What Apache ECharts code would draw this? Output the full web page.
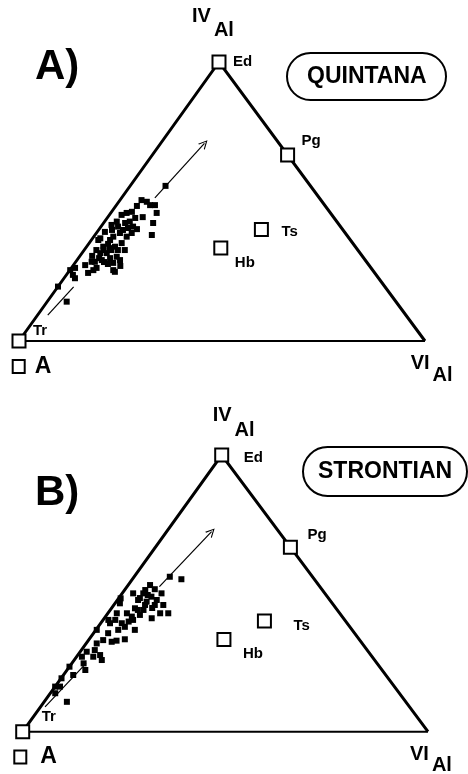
<!DOCTYPE html>
<html>
<head>
<meta charset="utf-8">
<style>
  html, body { margin: 0; padding: 0; background: #fff; }
  #chart { width: 468px; height: 774px; }
</style>
<script src="https://cdn.jsdelivr.net/npm/echarts@6/dist/echarts.min.js"></script>
</head>
<body>
<div id="chart"></div>
<script>
// ternary values in %: Al(IV) and Al(VI); the rest is the vacant A site (Tr corner)
const quintanaAlIV = [55.6, 50.5, 49.9, 48.7, 45.9, 44.4, 42.3, 38.0, 46.3, 45.9, 45.2, 42.8, 42.3, 41.0, 38.7, 37.4, 42.8, 41.0, 38.7, 37.4,
  36.2, 36.2, 33.8, 32.6, 31.5, 31.5, 32.6, 33.8, 35.1, 32.6, 30.2, 29.7, 28.0, 24.8, 29.0, 28.4, 28.4, 26.2, 24.4, 26.2,
  23.7, 25.4, 19.5, 14.1, 39.1, 34.8, 32.6, 29.0, 32.6, 39.8, 48.4, 40.5, 29.7, 27.6, 28.3, 30.5, 33.3, 26.9, 27.2, 39.8,
  44.1, 40.1, 48.7, 22.5, 25.4, 25.4, 36.8, 41.6];
const quintanaAlVI = [8.7, 5.3, 6.9, 9.5, 11.3, 8.6, 12.2, 14.0, 5.0, 3.9, 3.0, 6.2, 5.3, 7.9, 8.7, 8.1, 3.0, 4.2, 5.8, 4.8,
  4.6, 1.7, 4.1, 3.0, 4.5, 6.1, 6.7, 7.0, 8.0, 10.0, 9.2, 7.8, 9.4, 11.4, 6.1, 4.7, 3.9, 6.2, 5.0, 0.9,
  1.6, 0.1, 0.0, 4.8, 1.9, 4.8, 4.8, 10.6, 8.3, 3.3, 5.2, 6.9, 5.1, 8.3, 7.0, 3.0, 6.0, 11.7, 2.9, 6.0,
  6.9, 9.3, 8.3, 2.7, 5.8, 10.7, 1.9, 2.3];

const strontianAlIV = [56.0, 55.1, 51.5, 50.0, 50.0, 50.0, 47.6, 47.0, 48.8, 47.6, 45.8, 42.8, 42.8, 41.0, 44.0, 44.6, 42.2, 41.6, 39.8, 37.9,
  36.8, 46.4, 42.8, 42.8, 39.2, 36.8, 39.2, 35.6, 33.1, 32.5, 32.9, 33.4, 31.9, 29.5, 27.7, 27.1, 28.9, 27.1, 24.7, 22.3,
  20.5, 23.5, 19.3, 16.3, 13.9, 16.3, 10.8, 36.8, 48.3, 49.4, 45.8, 44.7, 40.4, 40.4, 51.2, 45.8, 44.0, 53.0, 48.2, 40.4, 25.9];
const strontianAlVI = [8.8, 12.1, 7.3, 9.7, 2.7, 5.2, 5.1, 7.5, 7.8, 9.7, 12.2, 14.9, 12.9, 11.7, 8.2, 5.8, 8.2, 6.5, 6.6, 6.6,
  9.6, 1.2, 2.2, 4.7, 5.2, 5.5, 2.3, 3.6, 3.6, 6.0, 7.0, 8.8, 2.6, 3.3, 5.5, 4.1, 1.6, 1.3, 2.9, 4.5,
  2.4, 0.0, 0.1, 1.2, 1.2, 0.0, 5.6, 0.2, 5.2, 6.6, 7.7, 10.0, 7.4, 3.0, 5.1, 10.1, 6.8, 5.4, 0.5, 1.3, 6.8];

// end-members
const endMembers = ['Tr', 'Ed', 'Pg', 'Ts', 'Hb'];
const endMemberAlIV = [0, 100, 66.7, 40, 33.3];
const endMemberAlVI = [0, 0, 33.3, 40, 33.3];

// trend arrow: tail, gap start, gap end, head
const quintanaTrendIV = [9.3, 19.4, 51.3, 70.8];
const quintanaTrendVI = [2.5, 3.9, 8.2, 10.8];
const strontianTrendIV = [9.0, 24.7, 52.4, 72.3];
const strontianTrendVI = [1.1, 3.5, 8.0, 11.1];

const font = '"Liberation Sans", Arial, Helvetica, sans-serif';
const arrowHead = 'path://M5,0 L10,10 L8.6,10 L5,2.6 L1.4,10 L0,10 Z';

const panels = [
  {
    label: 'A)', site: 'QUINTANA',
    grid: { left: 19, top: 62, width: 406, height: 279 },
    topX: 0.4926,
    alIV: quintanaAlIV, alVI: quintanaAlVI,
    trendIV: quintanaTrendIV, trendVI: quintanaTrendVI,
    memberOffsets: [[14, -10], [14, 0], [14, -14], [20, 2], [14, 15]],
    topLabel: { offset: [-27, -31.5], shift: 14 },
    rightLabel: { offset: [-14.3, 34], shift: 11.5 },
    vacancy: { offset: [-6.3, 25.5], gap: 10 }
  },
  {
    label: 'B)', site: 'STRONTIAN',
    grid: { left: 22.7, top: 455, width: 405.3, height: 276.7 },
    topX: 0.491,
    alIV: strontianAlIV, alVI: strontianAlVI,
    trendIV: strontianTrendIV, trendVI: strontianTrendVI,
    memberOffsets: [[19, -15], [22, 3], [17, -12], [29, 5], [19, 14]],
    topLabel: { offset: [-9, -24.5], shift: 15 },
    rightLabel: { offset: [-18, 33.8], shift: 11 },
    vacancy: { offset: [-8.4, 25.3], gap: 14 }
  }
];

function project(alIV, alVI, topX) {
  return [(alVI + alIV * topX) / 100, alIV / 100];
}

function subLabel(sup, base, offset, shift) {
  return {
    show: true, position: 'inside', align: 'left', verticalAlign: 'middle', offset: offset,
    formatter: '{sup|' + sup + '}{base|' + base + '}',
    rich: {
      sup: { fontSize: 20, fontWeight: 'bold', fontFamily: font, color: '#000', lineHeight: 20, verticalAlign: 'top', padding: [0, 3, 0, 0] },
      base: { fontSize: 20, fontWeight: 'bold', fontFamily: font, color: '#000', lineHeight: 20 + 2 * shift, verticalAlign: 'middle' }
    }
  };
}

function panelSeries(i, p) {
  const ax = { xAxisIndex: i, yAxisIndex: i };
  const pt = (iv, vi) => project(iv, vi, p.topX);
  const tr = p.trendIV.map((v, k) => pt(v, p.trendVI[k]));
  return [
    {
      type: 'line', ...ax, data: [pt(0, 0), pt(100, 0), pt(0, 100)],
      symbol: 'none', clip: false, silent: true, z: 1,
      lineStyle: { color: '#000', width: 3, join: 'miter' }
    },
    {
      type: 'line', ...ax, data: [pt(0, 0), pt(0, 100)],
      symbol: 'none', clip: false, silent: true, z: 1,
      lineStyle: { color: '#000', width: 2 }
    },
    {
      type: 'lines', coordinateSystem: 'cartesian2d', ...ax, z: 2, silent: true,
      data: [{ coords: [tr[0], tr[1]] }],
      symbol: ['none', 'none'],
      lineStyle: { color: '#000', width: 1.2, opacity: 1, curveness: 0 }
    },
    {
      type: 'lines', coordinateSystem: 'cartesian2d', ...ax, z: 2, silent: true,
      data: [{ coords: [tr[2], tr[3]] }],
      symbol: ['none', arrowHead], symbolSize: [0, 9],
      lineStyle: { color: '#000', width: 1.2, opacity: 1, curveness: 0 }
    },
    {
      type: 'scatter', ...ax, z: 3, clip: false, silent: true,
      symbol: 'rect', symbolSize: 6,
      itemStyle: { color: '#000', opacity: 1 },
      data: p.alIV.map((v, k) => pt(v, p.alVI[k]))
    },
    {
      type: 'scatter', ...ax, z: 4, clip: false, silent: true,
      symbol: 'rect', symbolSize: 13,
      itemStyle: { color: '#fff', borderColor: '#000', borderWidth: 2, opacity: 1 },
      data: endMembers.map((name, k) => ({
        name: name,
        value: pt(endMemberAlIV[k], endMemberAlVI[k]),
        label: {
          show: true, position: 'inside', align: 'left', verticalAlign: 'middle',
          offset: p.memberOffsets[k], formatter: name,
          fontSize: 15, fontWeight: 'bold', fontFamily: font, color: '#000'
        }
      }))
    },
    {
      type: 'scatter', ...ax, z: 5, clip: false, silent: true,
      symbolSize: 1, itemStyle: { color: 'rgba(0,0,0,0)', opacity: 1 },
      data: [
        { value: pt(100, 0), label: subLabel('IV', 'Al', p.topLabel.offset, p.topLabel.shift) },
        { value: pt(0, 100), label: subLabel('VI', 'Al', p.rightLabel.offset, p.rightLabel.shift) },
        {
          value: pt(0, 0),
          label: {
            show: true, position: 'inside', align: 'left', verticalAlign: 'middle',
            offset: p.vacancy.offset,
            formatter: '{box| }{t|A}',
            rich: {
              box: { width: 12, height: 13, borderColor: '#000', borderWidth: 2, verticalAlign: 'middle' },
              t: { fontSize: 23, fontWeight: 'bold', fontFamily: font, color: '#000', padding: [0, 0, 0, p.vacancy.gap], verticalAlign: 'middle' }
            }
          }
        }
      ]
    }
  ];
}

const chart = echarts.init(document.getElementById('chart'));

chart.setOption({
  backgroundColor: '#fff',
  animation: false,
  title: [
    { text: 'A)', left: 35, top: 46, padding: 0, textStyle: { fontSize: 42, fontWeight: 'bold', fontFamily: font, color: '#000', lineHeight: 42 } },
    {
      text: 'QUINTANA', left: 287, top: 53, padding: [12, 20], borderColor: '#000', borderWidth: 2, borderRadius: 24,
      textStyle: { fontSize: 23, fontWeight: 'bold', fontFamily: font, color: '#000', lineHeight: 23 }
    },
    { text: 'B)', left: 35, top: 472, padding: 0, textStyle: { fontSize: 42, fontWeight: 'bold', fontFamily: font, color: '#000', lineHeight: 42 } },
    {
      text: 'STRONTIAN', left: 303, top: 447, padding: [13, 15], borderColor: '#000', borderWidth: 2, borderRadius: 25,
      textStyle: { fontSize: 23, fontWeight: 'bold', fontFamily: font, color: '#000', lineHeight: 23 }
    }
  ],
  grid: panels.map(p => p.grid),
  xAxis: panels.map((p, i) => ({ type: 'value', gridIndex: i, min: 0, max: 1, show: false })),
  yAxis: panels.map((p, i) => ({ type: 'value', gridIndex: i, min: 0, max: 1, show: false })),
  series: panels.flatMap((p, i) => panelSeries(i, p))
});
</script>
</body>
</html>
